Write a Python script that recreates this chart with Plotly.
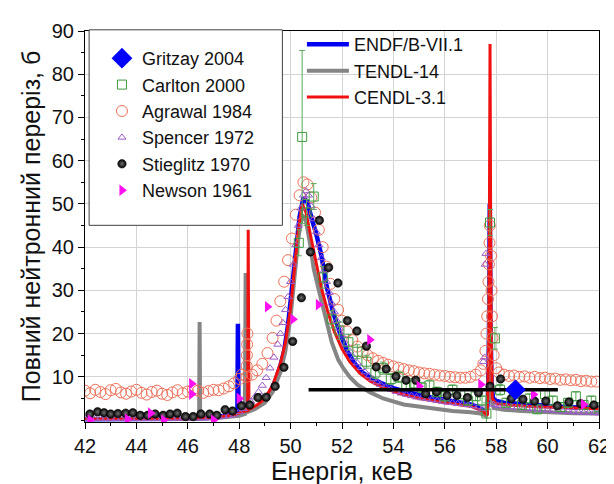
"""Total neutron cross section near 50 keV: evaluated libraries vs measurements."""
import plotly.graph_objects as go

FONT = "Liberation Sans, Arial, sans-serif"

# --- evaluated data (energy, keV / cross section, b) ---
endf_e = [42.0, 43.0, 44.0, 45.0, 46.0, 46.8, 47.3, 47.7, 47.93, 47.95, 47.97, 48.1, 48.4, 48.7,
          49.0, 49.2, 49.4, 49.6, 49.75, 49.9, 50.05, 50.2, 50.35, 50.5, 50.65, 50.8, 51.0, 51.2,
          51.4, 51.65, 51.9, 52.2, 52.5, 52.8, 53.1, 53.5, 54.0, 54.5, 55.0, 55.5, 56.0, 56.5,
          57.0, 57.3, 57.5, 57.62, 57.68, 57.72, 57.75, 57.78, 57.82, 57.88, 58.0, 58.3, 58.7,
          59.2, 59.8, 60.5, 61.2, 62.0]
endf_v = [0.2, 0.2, 0.2, 0.2, 0.3, 0.5, 0.8, 1.2, 1.5, 22.3, 5.0, 3.0, 2.5, 3.0,
          4.6, 6.5, 9.0, 12.5, 16.0, 22.0, 30.0, 39.0, 47.0, 51.5, 50.5, 47.0, 43.0, 38.0,
          31.0, 25.0, 20.5, 16.0, 13.0, 11.0, 9.8, 8.6, 7.4, 6.5, 5.8, 5.2, 4.7, 4.2,
          3.6, 3.0, 2.2, 1.2, 5.0, 20.0, 50.0, 22.0, 8.0, 5.0, 4.4, 4.0, 3.8,
          3.5, 3.3, 3.1, 2.9, 2.8]

tendl_e = [42.0, 43.0, 44.0, 45.0, 46.0, 46.44, 46.46, 46.48, 47.0, 47.5, 48.0, 48.22, 48.25,
           48.28, 48.6, 49.0, 49.3, 49.6, 49.8, 50.0, 50.15, 50.3, 50.45, 50.6, 50.75, 50.9,
           51.1, 51.35, 51.6, 51.85, 52.05, 52.3, 52.6, 53.1, 53.6, 54.4, 55.3, 56.3, 57.0,
           57.4, 57.6, 57.7, 57.75, 57.8, 57.9, 58.3, 59.0, 60.0, 61.0, 62.0]
tendl_v = [0.2, 0.2, 0.2, 0.2, 0.3, 0.3, 22.7, 0.3, 0.4, 0.6, 1.0, 1.4, 34.0,
           1.8, 2.5, 4.0, 6.5, 11.0, 16.0, 24.0, 33.0, 42.0, 47.5, 46.0, 41.0, 35.0,
           30.0, 24.0, 18.0, 14.0, 12.0, 10.0, 8.2, 6.4, 5.0, 3.6, 2.8, 2.1, 1.8,
           1.5, 1.0, 8.0, 40.0, 5.0, 2.8, 2.4, 2.1, 1.8, 1.6, 1.5]

cendl_e = [42.0, 44.0, 46.0, 47.0, 47.8, 48.2, 48.33, 48.35, 48.38, 48.7, 49.0, 49.3, 49.6,
           49.8, 50.0, 50.15, 50.3, 50.45, 50.6, 50.8, 51.0, 51.2, 51.45, 51.7, 52.0, 52.3,
           52.7, 53.1, 53.6, 54.2, 55.0, 56.0, 57.0, 57.5, 57.65, 57.72, 57.76, 57.8, 57.85,
           58.0, 58.5, 59.5, 60.5, 62.0]
cendl_v = [0.2, 0.2, 0.3, 0.6, 1.2, 2.0, 2.2, 44.0, 2.5, 3.5, 5.0, 8.0, 13.0,
           18.0, 26.0, 35.0, 44.0, 50.0, 48.0, 42.0, 36.0, 30.5, 25.0, 20.5, 16.5, 13.5,
           10.8, 9.0, 7.5, 6.2, 5.0, 4.0, 3.2, 2.0, 1.0, 20.0, 87.0, 20.0, 5.0,
           3.8, 3.5, 3.1, 2.9, 2.6]

# --- measurements ---
gritzay_e = [58.75]
gritzay_v = [7.0]
gritzay_dx_plus = [1.65]
gritzay_dx_minus = [8.05]

carlton_e = [50.32, 50.45, 50.62, 50.9, 51.25, 51.6, 51.9, 52.25, 52.6, 52.95, 53.3, 53.6, 53.9,
             54.2, 54.5, 54.8, 55.1, 55.4, 55.7, 56.0, 56.3, 56.6, 56.9, 57.2, 57.45, 57.62,
             57.76, 57.95, 58.15, 58.4, 58.7, 59.0, 59.3, 59.6, 59.9, 60.2, 60.5, 60.8, 61.1,
             61.4, 61.7, 62.0]
carlton_v = [41.0, 65.5, 48.0, 51.7, 33.0, 23.3, 20.7, 18.0, 15.8, 13.5, 11.0, 12.0, 9.5,
             10.0, 8.0, 8.5, 7.5, 8.0, 6.5, 5.5, 7.0, 6.0, 4.5, 5.5, 4.5, 1.5,
             45.7, 18.9, 7.0, 4.0, 6.0, 3.5, 5.0, 2.5, 6.0, 4.5, 3.0, 4.0, 5.5,
             3.5, 4.5, 3.0]
carlton_err = [3.0, 20.0, 3.0, 3.0, 2.5, 2.0, 2.0, 1.8, 1.6, 1.5, 1.4, 1.4, 1.3,
               1.3, 1.2, 1.2, 1.2, 1.2, 1.1, 1.1, 1.1, 1.1, 1.0, 1.0, 1.0, 2.5,
               3.0, 2.5, 1.2, 1.0, 1.0, 1.0, 1.0, 1.0, 1.0, 1.0, 1.0, 1.0, 1.0,
               1.0, 1.0, 1.0]

agrawal_e = [42.0, 42.2, 42.4, 42.6, 42.8, 43.0, 43.2, 43.4, 43.6, 43.8, 44.0, 44.2, 44.4, 44.6,
             44.8, 45.0, 45.2, 45.4, 45.6, 45.8, 46.0, 46.2, 46.4, 46.6, 46.8, 47.0, 47.2, 47.4,
             47.6, 47.8, 48.0, 48.1, 48.28, 48.29, 48.3, 48.31, 48.32, 48.5, 48.7, 48.9, 49.1,
             49.3, 49.45, 49.6, 49.75, 49.9, 50.05, 50.2, 50.35, 50.5, 50.65, 50.8, 50.95, 51.1,
             51.25, 51.4, 51.55, 51.7, 51.85, 52.0, 52.2, 52.4, 52.6, 52.8, 53.0, 53.2, 53.4,
             53.6, 53.8, 54.0, 54.2, 54.4, 54.6, 54.8, 55.0, 55.2, 55.4, 55.6, 55.8, 56.0,
             56.2, 56.4, 56.6, 56.8, 57.0, 57.2, 57.4, 57.5, 57.58, 57.62, 57.65, 57.68, 57.7,
             57.72, 57.74, 57.75, 57.8, 57.82, 57.84, 57.86, 57.9, 58.0, 58.1, 58.3, 58.5, 58.7,
             58.9, 59.1, 59.3, 59.5, 59.7, 59.9, 60.1, 60.3, 60.5, 60.7, 60.9, 61.1, 61.3,
             61.5, 61.7, 61.9]
agrawal_v = [6.8, 6.2, 7.0, 6.5, 6.0, 6.9, 7.2, 6.4, 6.1, 6.6, 7.0, 6.3, 5.9, 6.5,
             6.8, 6.1, 5.8, 6.4, 6.9, 6.2, 6.6, 7.1, 6.8, 6.3, 6.7, 7.0, 6.9, 7.3,
             7.8, 8.5, 9.5, 10.5, 10.0, 12.5, 15.0, 17.5, 20.0, 10.5, 11.5, 13.0, 15.5,
             19.0, 23.0, 27.5, 32.0, 37.0, 42.0, 47.5, 52.0, 55.0, 54.5, 51.5, 48.0, 44.0,
             40.0, 35.5, 31.5, 28.0, 25.5, 23.0, 20.5, 18.5, 17.0, 15.8, 15.0, 14.3, 13.7,
             13.2, 12.8, 12.4, 12.1, 11.8, 11.5, 11.3, 11.0, 10.8, 10.7, 10.5, 10.3, 10.2,
             10.0, 9.9, 9.8, 9.8, 10.0, 10.5, 11.5, 13.0, 16.0, 20.0, 24.0, 28.0, 32.0,
             36.0, 41.0, 45.0, 38.0, 30.0, 24.0, 19.0, 15.0, 12.0, 11.0, 10.5, 10.2, 10.3,
             10.0, 10.1, 9.8, 10.0, 9.7, 9.8, 9.5, 9.6, 9.3, 9.4, 9.2, 9.3, 9.0,
             9.1, 8.9, 8.9]

spencer_e = [42.0, 42.2, 42.4, 42.6, 42.8, 43.0, 43.2, 43.4, 43.6, 43.8, 44.0, 44.2, 44.4, 44.6,
             44.8, 45.0, 45.2, 45.4, 45.6, 45.8, 46.0, 46.2, 46.4, 46.6, 46.8, 47.0, 47.2, 47.4,
             47.6, 47.8, 48.0, 48.15, 48.3, 48.45, 48.6, 48.75, 48.9, 49.05, 49.2, 49.35, 49.5,
             49.6, 49.7, 49.8, 49.9, 50.0, 50.1, 50.2, 50.3, 50.4, 50.5, 50.6, 50.7, 50.8, 50.9,
             51.0, 51.1, 51.2, 51.3, 51.4, 51.5, 51.6, 51.7, 51.8, 51.9, 52.0, 52.15, 52.3,
             52.45, 52.6, 52.75, 52.9, 53.05, 53.2, 53.35, 53.5, 53.7, 53.9, 54.1, 54.3, 54.5,
             54.7, 54.9, 55.1, 55.3, 55.5, 55.7, 55.9, 56.1, 56.3, 56.5, 56.7, 56.9, 57.1,
             57.3, 57.45, 57.5, 57.55, 57.57, 57.6, 57.9, 58.05, 58.2, 58.4, 58.6, 58.8, 59.0,
             59.2, 59.4, 59.6, 59.8, 60.0, 60.2, 60.4, 60.6, 60.8, 61.0, 61.2, 61.4, 61.6,
             61.8, 62.0]
spencer_v = [0.3, 0.4, 0.3, 0.4, 0.3, 0.4, 0.3, 0.4, 0.3, 0.4, 0.3, 0.4, 0.3, 0.4,
             0.3, 0.4, 0.3, 0.4, 0.4, 0.4, 0.4, 0.5, 0.4, 0.5, 0.5, 0.6, 0.7, 0.8,
             1.0, 1.3, 1.9, 2.6, 3.4, 4.3, 5.3, 6.5, 8.0, 9.8, 12.0, 14.5, 17.5,
             20.0, 22.5, 25.5, 28.5, 32.0, 36.0, 40.5, 45.0, 49.0, 52.0, 53.0, 52.0, 49.5, 46.5,
             43.5, 40.5, 37.5, 34.5, 32.0, 29.5, 27.0, 25.0, 23.0, 21.2, 19.6, 17.6, 15.9,
             14.5, 13.2, 12.1, 11.1, 10.2, 9.5, 8.8, 8.2, 7.6, 7.1, 6.6, 6.2, 5.9,
             5.6, 5.3, 5.1, 4.9, 4.7, 4.5, 4.3, 4.1, 4.0, 3.8, 3.7, 3.5, 3.3,
             3.0, 2.6, 13.5, 14.5, 36.0, 38.5, 3.6, 3.4, 3.3, 3.1, 3.0, 2.9, 2.8,
             2.7, 2.6, 2.5, 2.4, 2.3, 2.2, 2.1, 2.0, 1.95, 1.9, 1.8, 1.75, 1.7,
             1.65, 1.6]

stieglitz_e = [42.19, 42.49, 42.74, 43.0, 43.28, 43.58, 43.86, 44.15, 44.44, 44.73, 45.04, 45.31,
               45.59, 45.91, 46.21, 46.51, 46.85, 47.13, 47.45, 47.74, 48.09, 48.41, 48.73, 49.05,
               49.4, 49.74, 50.08, 50.42, 50.77, 51.12, 51.48, 51.84, 52.21, 52.58, 52.95, 53.33,
               53.72, 54.1, 54.49, 54.87, 55.26, 55.68, 56.09, 56.47, 56.88, 57.31, 57.76, 58.17,
               58.59, 59.04, 59.49, 59.93, 60.38, 60.83, 61.28, 61.8]
stieglitz_v = [1.4, 1.9, 1.7, 1.4, 1.5, 1.6, 1.7, 1.1, 1.1, 1.4, 1.1, 1.4,
               1.6, 0.8, 0.8, 1.4, 1.4, 1.1, 2.4, 2.1, 3.3, 3.5, 5.2, 5.3,
               7.8, 12.2, 18.2, 28.3, 38.9, 46.2, 35.3, 31.7, 23.0, 20.6, 17.1, 12.3,
               11.8, 10.1, 9.2, 9.2, 6.1, 6.5, 5.7, 5.7, 5.2, 6.3, 7.8, 9.5,
               5.0, 4.8, 4.4, 4.4, 3.3, 4.2, 3.8, 3.5]

newson_e = [42.2, 43.65, 44.55, 45.06, 46.15, 46.15, 47.0, 48.0, 49.1, 50.09, 51.08, 53.08,
            55.0, 57.4, 59.45, 61.4]
newson_v = [0.0, 0.2, 1.6, 0.0, 8.4, 6.0, 0.0, 5.0, 26.2, 23.3, 26.7, 18.6,
            7.8, 8.2, 5.9, 3.6]

x_ticks = [42, 44, 46, 48, 50, 52, 54, 56, 58, 60, 62]
y_ticks = [10, 20, 30, 40, 50, 60, 70, 80, 90]

fig = go.Figure()

# evaluated curves underneath, measured points drawn over them
fig.add_trace(go.Scatter(
    x=endf_e, y=endf_v, mode="lines", name="ENDF/B-VII.1", legend="legend2", legendrank=1,
    line=dict(color="#0000f0", width=4.5),
))
fig.add_trace(go.Scatter(
    x=tendl_e, y=tendl_v, mode="lines", name="TENDL-14", legend="legend2", legendrank=2,
    line=dict(color="#858585", width=4),
))
fig.add_trace(go.Scatter(
    x=cendl_e, y=cendl_v, mode="lines", name="CENDL-3.1", legend="legend2", legendrank=3,
    line=dict(color="#f01010", width=3),
))
fig.add_trace(go.Scatter(
    x=agrawal_e, y=agrawal_v, mode="markers", name="Agrawal 1984", legendrank=3,
    marker=dict(symbol="circle-open", size=11, color="#ee7058", line=dict(width=1)),
))
fig.add_trace(go.Scatter(
    x=spencer_e, y=spencer_v, mode="markers", name="Spencer 1972", legendrank=4,
    marker=dict(symbol="triangle-up-open", size=7, color="#9a5cc8", line=dict(width=1)),
))
fig.add_trace(go.Scatter(
    x=carlton_e, y=carlton_v, mode="markers", name="Carlton 2000", legendrank=2,
    marker=dict(symbol="square-open", size=9, color="#3f9a3f", line=dict(width=1)),
    error_y=dict(type="data", array=carlton_err, color="#5aaa5a", thickness=1, width=3),
))
fig.add_trace(go.Scatter(
    x=stieglitz_e, y=stieglitz_v, mode="markers", name="Stieglitz 1970", legendrank=5,
    marker=dict(symbol="circle", size=8.5, color="#000000",
                gradient=dict(type="radial", color="#707070"),
                line=dict(width=0.5, color="#000000")),
))
fig.add_trace(go.Scatter(
    x=newson_e, y=newson_v, mode="markers", name="Newson 1961", legendrank=6,
    marker=dict(symbol="triangle-right", size=10, color="#ff10f0"),
))
fig.add_trace(go.Scatter(
    x=gritzay_e, y=gritzay_v, mode="markers", name="Gritzay 2004", legendrank=1,
    marker=dict(symbol="diamond", size=16, color="#0000ff"),
    error_x=dict(type="data", symmetric=False, array=gritzay_dx_plus,
                 arrayminus=gritzay_dx_minus, color="#000000", thickness=3.5, width=0),
))

# white framed box behind the experimental legend
fig.add_shape(type="rect", xref="paper", yref="paper", x0=0.008, x1=0.384, y0=0.503, y1=1.003,
              fillcolor="#ffffff", line=dict(color="#404040", width=1), layer="above")

axis_common = dict(
    showline=True, linecolor="#000000", linewidth=1, mirror=True,
    ticks="outside", ticklen=6, tickcolor="#000000",
    showgrid=True, gridcolor="#d4d4d4", gridwidth=1, zeroline=False,
    tickfont=dict(family=FONT, size=20, color="#111111"),
)
fig.update_xaxes(
    range=[42, 62], tickvals=x_ticks,
    title=dict(text="Енергія, кеВ", font=dict(family=FONT, size=25, color="#111111"), standoff=5),
    minor=dict(dtick=1, ticks="outside", ticklen=3, tickcolor="#000000", showgrid=False),
    **axis_common,
)
fig.update_yaxes(
    range=[-0.45, 90], tickvals=y_ticks,
    title=dict(text="Повний нейтронний переріз, б", font=dict(family=FONT, size=25, color="#111111"),
               standoff=4),
    minor=dict(dtick=5, ticks="outside", ticklen=3, tickcolor="#000000", showgrid=False),
    **axis_common,
)

fig.update_layout(
    width=614, height=484,
    margin=dict(l=77, r=17, t=20, b=66),
    paper_bgcolor="#ffffff", plot_bgcolor="#ffffff",
    font=dict(family=FONT, color="#111111"),
    legend=dict(x=0.033, y=0.977, xanchor="left", yanchor="top",
                bgcolor="rgba(0,0,0,0)", borderwidth=0,
                font=dict(family=FONT, size=18, color="#111111")),
    legend2=dict(x=0.422, y=1.0126, xanchor="left", yanchor="top", itemwidth=42,
                 bgcolor="rgba(0,0,0,0)", borderwidth=0,
                 font=dict(family=FONT, size=18, color="#111111")),
)

fig.write_html("out.html")
